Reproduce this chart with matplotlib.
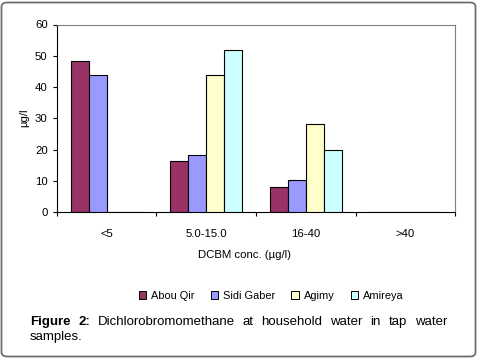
import matplotlib.pyplot as plt
from matplotlib.patches import FancyBboxPatch, Patch
import numpy as np

plt.rcParams['font.family'] = ['Liberation Sans', 'DejaVu Sans']

# data
categories = ["<5", "5.0-15.0", "16-40", ">40"]
series = ["Abou Qir", "Sidi Gaber", "Agimy", "Amireya"]
abou_qir = [48.2, 16.2, 7.9, 0]
sidi_gaber = [44.0, 18.1, 10.1, 0]
agimy = [0, 44.0, 28.1, 0]
amireya = [0, 52.0, 19.7, 0]
colors = ["#993366", "#9999FF", "#FFFFCC", "#CCFFFF"]
y_ticks = [0, 10, 20, 30, 40, 50, 60]

W, H = 478, 358
fig = plt.figure(figsize=(W / 100, H / 100), dpi=100)

# rounded outer frame
frame = FancyBboxPatch((1.5 / W, 1.5 / H), (W - 4) / W, (H - 4) / H,
                       boxstyle="round,pad=0,rounding_size=0.012",
                       transform=fig.transFigure, fill=False,
                       edgecolor="#6e6e6e", linewidth=1.3)
fig.patches.append(frame)

ax = fig.add_axes([56.7 / W, 1 - 212 / H, (455.3 - 56.7) / W, (212 - 24.5) / H])
x = np.arange(len(categories))
bw = 0.1807
all_vals = [abou_qir, sidi_gaber, agimy, amireya]
for i, (vals, c) in enumerate(zip(all_vals, colors)):
    ax.bar(x + (i - 1.5) * bw, vals, width=bw, color=c, edgecolor="black",
           linewidth=0.8, zorder=3)

fs_small = 8.2
ax.set_xlim(-0.5, len(categories) - 0.5)
ax.set_ylim(0, 60)
ax.set_yticks(y_ticks)
ax.tick_params(axis="y", length=3, width=0.8, pad=3.5, labelsize=fs_small)
ax.set_xticks(np.arange(-0.5, len(categories), 1.0))
ax.set_xticklabels([])
ax.set_xticks(x, minor=True)
ax.set_xticklabels(categories, minor=True)
ax.tick_params(axis="x", which="major", length=3, width=0.8)
ax.tick_params(axis="x", which="minor", length=0, pad=12, labelsize=fs_small)
for s in ["top", "right"]:
    ax.spines[s].set_color("#808080")
    ax.spines[s].set_linewidth(0.8)
for s in ["left", "bottom"]:
    ax.spines[s].set_linewidth(0.8)

fig.text(24 / W, 1 - 118 / H, "µg/l", rotation=90, ha="center", va="center", fontsize=fs_small)
fig.text(245 / W, 1 - 255 / H, "DCBM conc. (µg/l)", ha="center", va="center", fontsize=fs_small)

handles = [Patch(facecolor=c, edgecolor="black", linewidth=0.7) for c in colors]
fig.legend(handles, series, loc="center", bbox_to_anchor=(271 / W, 1 - 296 / H),
           ncol=4, frameon=False, fontsize=7.9, handlelength=0.7, handleheight=0.7,
           handletextpad=0.4, columnspacing=1.5, borderpad=0)

# justified caption
fig.canvas.draw()
rend = fig.canvas.get_renderer()
left, right = 30, 447
line1 = [("Figure", "bold"), ("2:", "bold"), ("Dichlorobromomethane", "normal"),
         ("at", "normal"), ("household", "normal"), ("water", "normal"),
         ("in", "normal"), ("tap", "normal"), ("water", "normal")]
fs = 9.5
texts = []
for w, fw in line1:
    t = fig.text(0, 1 - 325 / H, w, fontsize=fs, fontweight=fw, va="baseline", ha="left")
    texts.append(t)
widths = [t.get_window_extent(rend).width for t in texts]
gap = (right - left - sum(widths)) / (len(texts) - 1)
pos = left
for t, w in zip(texts, widths):
    t.set_x(pos / W)
    pos += w + gap
fig.text(left / W, 1 - 340 / H, "samples.", fontsize=fs, va="baseline", ha="left")

fig.savefig("out.png", dpi=100)
